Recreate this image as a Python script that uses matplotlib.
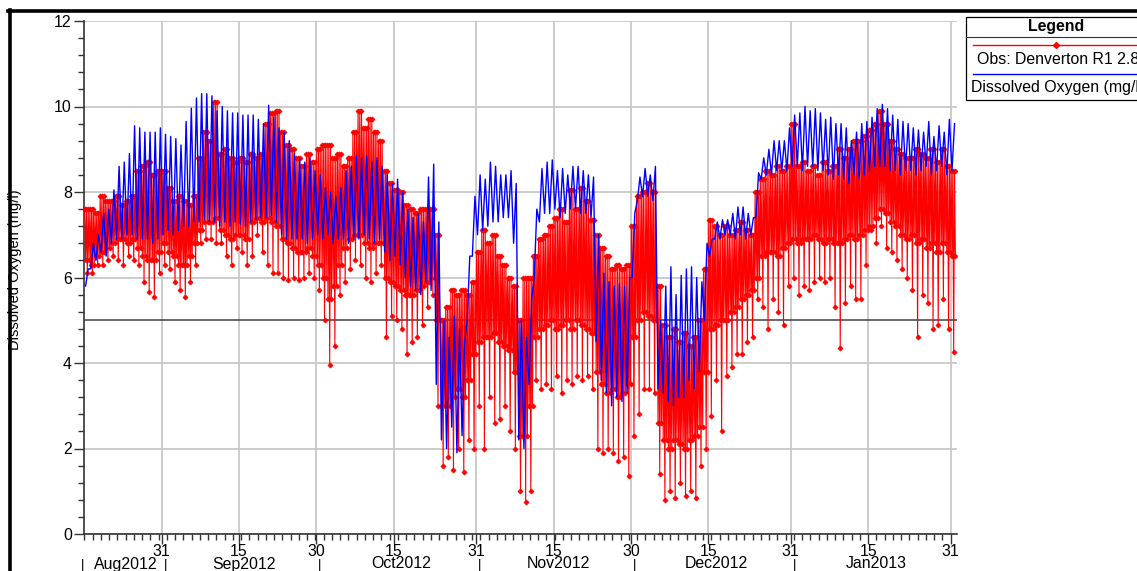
import matplotlib
matplotlib.use("Agg")
import matplotlib.pyplot as plt
import matplotlib.dates as mdates
import matplotlib.transforms as mtransforms
from matplotlib.lines import Line2D
from matplotlib.patches import Rectangle
from matplotlib.ticker import MultipleLocator, FixedLocator
import numpy as np

plt.rcParams['font.family'] = ['Liberation Sans', 'DejaVu Sans']

# ---------------- data (daily values, start 2012-08-16) ----------------
start_date = "2012-08-16"

blue_peak = [
    6.2, 6.8, 7.0, 7.5, 7.6, 8.05, 8.6, 8.7, 8.9, 9.55,
    9.5, 9.4, 9.4, 9.4, 9.5, 9.35, 9.3, 9.25, 9.1, 9.65,
    9.96, 10.2, 10.3, 10.3, 10.25, 9.9, 10.0, 9.9, 9.85, 9.85,
    9.8, 9.8, 9.8, 9.7, 9.6, 10.03, 9.75, 9.5, 9.4, 9.2,
    8.9, 8.8, 8.7, 8.8, 8.5, 8.4, 8.1, 8.0, 7.9, 8.1,
    8.5, 8.6, 8.85, 8.8, 8.85, 8.7, 8.8, 8.6, 8.4, 8.2,
    8.3, 8.0, 7.6, 7.4, 7.5, 7.3, 8.35, 8.65, 7.3, 5.0,
    4.6, 5.1, 4.8, 4.5, 6.5, 7.9, 8.4, 8.3, 8.7, 8.6,
    8.4, 8.4, 8.5, 8.2, 5.0, 4.6, 5.5, 7.6, 8.55, 8.7,
    8.75, 8.5, 8.55, 8.4, 8.6, 8.6, 8.5, 8.4, 8.35, 7.0,
    6.1, 5.9, 5.8, 5.85, 5.8, 6.0, 7.5, 8.35, 8.55, 8.4,
    8.6, 5.0, 5.8, 6.25, 5.6, 6.05, 6.2, 6.25, 6.0, 5.9,
    6.8, 6.9, 7.3, 7.35, 7.35, 7.5, 7.65, 7.65, 7.5, 7.4,
    8.45, 8.8, 9.0, 9.2, 9.2, 9.2, 9.5, 9.8, 9.85, 10.0,
    9.9, 9.95, 9.85, 9.7, 9.75, 9.6, 9.6, 9.5, 9.2, 9.4,
    9.6, 9.65, 9.75, 9.95, 10.05, 9.95, 9.8, 9.7, 9.65, 9.6,
    9.5, 9.45, 9.4, 9.65, 9.3, 9.55, 9.4, 9.7, 9.6,
]

blue_trough = [
    5.8, 6.2, 6.4, 6.6, 6.5, 6.8, 6.9, 6.9, 7.0, 7.0,
    6.9, 6.9, 6.9, 6.8, 6.9, 7.0, 7.1, 7.0, 7.1, 7.2,
    7.2, 7.3, 7.3, 7.35, 7.3, 7.3, 7.2, 7.3, 7.2, 7.3,
    7.25, 7.2, 7.3, 7.35, 7.4, 7.4, 7.45, 7.3, 7.0, 6.9,
    6.9, 6.9, 6.9, 6.8, 6.9, 7.0, 6.9, 7.0, 6.8, 6.9,
    6.9, 6.8, 6.9, 6.9, 7.0, 6.9, 6.8, 6.9, 6.6, 6.4,
    6.5, 6.3, 6.0, 5.8, 5.7, 5.6, 5.9, 5.7, 3.5, 2.2,
    2.0, 2.5, 1.9, 2.3, 5.0, 6.5, 7.0, 7.1, 7.2, 7.3,
    7.3, 7.4, 7.4, 6.8, 2.2, 2.0, 3.5, 6.0, 7.3, 7.5,
    7.5, 7.6, 7.4, 7.5, 7.6, 7.6, 7.5, 7.5, 7.4, 4.5,
    3.6, 3.3, 3.0, 3.2, 3.1, 3.3, 6.0, 7.8, 7.9, 7.9,
    7.8, 3.4, 3.3, 3.1, 3.0, 3.2, 3.2, 3.6, 3.4, 3.8,
    5.0, 6.5, 6.9, 6.9, 7.0, 7.0, 6.9, 7.0, 6.9, 7.0,
    7.4, 8.3, 8.4, 8.4, 8.5, 8.5, 8.5, 8.6, 8.6, 8.5,
    8.6, 8.6, 8.5, 8.5, 8.4, 8.3, 8.4, 8.3, 8.2, 8.4,
    8.3, 8.4, 8.5, 8.6, 8.6, 8.6, 8.5, 8.5, 8.4, 8.5,
    8.5, 8.4, 8.5, 8.6, 8.4, 8.5, 8.6, 8.4, 8.5,
]

red_high = [
    7.6, 7.6, 7.5, 7.9, 7.8, 7.8, 7.9, 7.7, 7.8, 7.9,
    8.5, 8.6, 8.7, 8.4, 8.5, 8.5, 8.1, 7.8, 7.9, 7.8,
    7.7, 7.9, 8.8, 9.4, 9.2, 10.1, 8.9, 9.0, 8.8, 8.7,
    8.8, 8.7, 8.9, 8.8, 8.9, 9.6, 9.85, 9.9, 9.4, 9.1,
    9.0, 8.8, 8.6, 8.9, 8.7, 9.0, 9.1, 9.1, 8.8, 8.9,
    8.6, 8.8, 9.4, 9.9, 9.5, 9.7, 9.4, 9.2, 8.5, 8.2,
    8.05, 8.0, 7.7, 7.6, 7.5, 7.6, 7.6, 7.6, 7.0, 5.0,
    5.3, 5.7, 5.6, 5.7, 5.6, 5.9, 6.6, 7.1, 6.8, 7.0,
    6.5, 6.3, 6.0, 5.8, 5.0, 6.0, 6.0, 6.5, 6.9, 7.0,
    7.2, 7.4, 7.6, 7.3, 8.05, 7.6, 8.1, 7.8, 7.35, 7.0,
    6.7, 6.5, 6.2, 6.3, 6.2, 6.3, 7.2, 7.9, 8.0, 8.2,
    8.0, 5.8, 4.9, 4.6, 4.8, 4.5, 4.7, 4.4, 4.6, 5.0,
    6.2, 7.35, 7.2, 7.0, 7.2, 7.0, 7.1, 7.3, 7.1, 7.0,
    8.0, 8.3, 8.5, 8.4, 8.6, 8.5, 8.6, 9.6, 8.6, 8.7,
    8.5, 8.6, 8.4, 8.7, 8.5, 8.6, 9.0, 8.8, 9.0, 9.2,
    9.2, 9.3, 9.45, 9.6, 9.9, 9.6, 9.2, 9.0, 8.9, 8.8,
    8.8, 9.0, 8.9, 8.8, 9.0, 8.7, 9.0, 8.6, 8.5,
]

red_low = [
    6.4, 6.3, 6.5, 6.6, 6.7, 6.8, 6.9, 6.9, 6.8, 6.9,
    6.7, 6.5, 6.4, 6.4, 6.6, 6.8, 6.6, 6.5, 6.3, 6.3,
    6.5, 6.8, 7.1, 7.3, 7.3, 7.4, 7.1, 7.0, 6.9, 7.0,
    7.0, 6.9, 7.3, 7.4, 7.3, 7.4, 7.3, 7.2, 6.9, 6.8,
    6.7, 6.6, 6.6, 6.7, 6.5, 6.3, 6.0, 5.5, 5.8, 6.3,
    6.7, 6.9, 7.0, 7.0, 6.8, 6.7, 6.8, 6.8, 6.0, 5.9,
    5.8, 5.7, 5.6, 5.6, 5.7, 5.8, 5.9, 6.0, 5.0, 3.0,
    3.0, 3.2, 3.4, 3.2, 3.6, 4.2, 4.5, 4.6, 4.6, 4.7,
    4.5, 4.4, 4.3, 3.8, 2.3, 2.3, 3.0, 4.6, 4.8, 4.9,
    5.0, 4.8, 4.9, 5.0, 4.8, 5.0, 4.9, 4.8, 4.7, 3.8,
    3.5, 3.3, 3.4, 3.2, 3.3, 3.5, 4.6, 5.0, 5.2, 5.1,
    5.0, 2.6, 2.2, 2.0, 2.2, 2.1, 2.0, 2.2, 2.3, 2.5,
    3.8, 4.8, 4.9, 5.0, 5.0, 5.2, 5.3, 5.5, 5.6, 5.7,
    6.0, 6.5, 6.6, 6.6, 6.5, 6.7, 6.8, 6.9, 6.8, 6.9,
    6.9, 7.0, 6.9, 6.8, 6.9, 6.8, 6.8, 6.9, 7.0, 6.9,
    7.0, 7.1, 7.2, 7.4, 7.6, 7.5, 7.3, 7.2, 7.0, 6.9,
    7.0, 6.8, 6.9, 6.7, 6.8, 6.6, 6.8, 6.6, 6.5,
]

red_min = [
    6.1, 6.1, 6.3, 6.3, 6.4, 6.5, 6.4, 6.3, 6.5, 6.4,
    6.3, 5.9, 5.65, 5.55, 6.1, 6.3, 6.2, 5.9, 5.7, 5.55,
    5.9, 6.3, 6.8, 6.9, 6.9, 6.8, 6.8, 6.5, 6.3, 6.7,
    6.6, 6.3, 6.5, 7.0, 6.6, 6.3, 6.1, 6.1, 6.0, 5.95,
    6.0, 5.95, 6.0, 6.1, 6.0, 5.7, 5.0, 3.95, 4.4, 5.6,
    5.9, 6.2, 6.4, 6.3, 6.0, 5.9, 6.1, 6.3, 4.6, 5.1,
    5.0, 4.8, 4.2, 4.5, 4.6, 4.9, 5.3, 5.6, 3.0, 1.6,
    1.8, 1.5, 2.0, 1.45, 2.2, 2.0, 3.0, 2.0, 3.2, 2.6,
    2.7, 3.0, 2.4, 2.0, 1.0, 0.75, 1.0, 3.6, 3.4, 3.5,
    3.4, 3.7, 3.3, 3.6, 3.5, 3.7, 3.6, 3.7, 3.4, 2.0,
    1.9, 2.0, 1.9, 1.7, 1.8, 1.35, 2.3, 2.8, 3.4, 3.4,
    3.3, 1.4, 0.8, 1.0, 0.85, 1.2, 0.9, 1.0, 0.85, 1.6,
    2.0, 2.75, 3.6, 2.4, 3.7, 3.9, 4.2, 4.2, 4.5, 4.6,
    5.5, 5.3, 4.8, 5.5, 5.2, 4.9, 5.8, 6.0, 5.6, 5.8,
    5.7, 5.9, 6.0, 5.9, 6.0, 5.3, 4.35, 5.4, 5.8, 5.5,
    5.5, 6.3, 7.1, 6.8, 7.2, 6.7, 6.6, 6.4, 6.2, 6.0,
    5.7, 4.6, 5.6, 5.4, 4.8, 4.9, 5.5, 4.8, 4.25,
]

threshold = 5.0

day_tick_dates = ["2012-08-31", "2012-09-15", "2012-09-30", "2012-10-15", "2012-10-31",
                  "2012-11-15", "2012-11-30", "2012-12-15", "2012-12-31", "2013-01-15",
                  "2013-01-31"]
day_tick_labels = ["31", "15", "30", "15", "31", "15", "30", "15", "31", "15", "31"]
month_bounds = ["2012-08-16", "2012-09-01", "2012-10-01", "2012-11-01", "2012-12-01",
                "2013-01-01", "2013-02-01"]
month_labels = ["Aug2012", "Sep2012", "Oct2012", "Nov2012", "Dec2012", "Jan2013"]

legend_title = "Legend"
series_red_name = "Obs: Denverton R1 2.8 ft"
series_blue_name = "Dissolved Oxygen (mg/l)"
y_label = "Dissolved Oxygen (mg/l)"

# ---------------- build series ----------------
t0 = mdates.datestr2num(start_date)
n = len(blue_peak)
tb, yb = [], []
for d in range(n):
    tb += [t0 + d + 0.25, t0 + d + 0.75]
    yb += [blue_trough[d], blue_peak[d]]
tr, yr = [], []
for d in range(n):
    seq = [red_high[d], red_low[d], red_high[d], red_min[d], red_high[d], red_low[d]]
    for k, v in enumerate(seq):
        tr.append(t0 + d + (k + 0.5) / len(seq))
        yr.append(v)

# ---------------- figure ----------------
W, H = 1137, 571
FS = 11.4
fig = plt.figure(figsize=(W / 100, H / 100), dpi=100)
fig.patch.set_facecolor("white")


def fx(x):
    return x / W


def fy(y):
    return 1 - y / H


ax_l, ax_r, ax_t, ax_b = 84.3, 956.7, 21, 534
ax = fig.add_axes([fx(ax_l), fy(ax_b), fx(ax_r - ax_l), (ax_b - ax_t) / H])

ax.axhline(threshold, color="#404040", lw=1.1, zorder=2)
ax.plot(tr, yr, color="#ff0000", lw=0.8, marker="D", ms=2.6, mew=0.5, zorder=3)
ax.plot(tb, yb, color="#0000ff", lw=1.0, zorder=4)

ax.set_ylim(0, 12)
x_lo = t0
x_hi = t0 + (ax_r - ax_l) / 5.157
ax.set_xlim(x_lo, x_hi)

ax.set_yticks([0, 2, 4, 6, 8, 10, 12])
ax.set_yticklabels(["0", "2", "4", "6", "8", "10", "12"])
ax.yaxis.set_minor_locator(MultipleLocator(0.4))

day_ticks = [mdates.datestr2num(s) for s in day_tick_dates]
ax.set_xticks(day_ticks)
ax.set_xticklabels(day_tick_labels)
ax.xaxis.set_minor_locator(FixedLocator(np.arange(x_lo, x_hi, 1.6)))

ax.tick_params(axis="both", which="major", length=7, width=1.0, color="#333333",
               labelsize=FS, labelcolor="black", direction="out")
ax.tick_params(axis="both", which="minor", length=4, width=1.0, color="#333333",
               direction="out")
ax.tick_params(axis="x", which="major", pad=0.0)
ax.tick_params(axis="y", which="major", pad=2)

ax.grid(True, which="major", color="#c8c8c8", lw=1.3, zorder=0)
ax.set_axisbelow(True)
for s in ["top", "right"]:
    ax.spines[s].set_visible(False)
for s in ["left", "bottom"]:
    ax.spines[s].set_color("#333333")
    ax.spines[s].set_linewidth(1.2)

# month row
trans = mtransforms.blended_transform_factory(ax.transData, fig.transFigure)
mb = [mdates.datestr2num(s) for s in month_bounds]
for i, lab in enumerate(month_labels):
    a = max(mb[i], x_lo)
    b = min(mb[i + 1], x_hi)
    ax.text((a + b) / 2, fy(564), lab, transform=trans, ha="center", va="center",
            fontsize=FS, clip_on=False)
for m in mb[:-1]:
    xm = max(m, x_lo) - 0.3
    ax.text(xm, fy(571), "|", transform=trans, ha="center", va="bottom",
            fontsize=9.5, clip_on=False)

# y label
fig.text(fx(15), fy(270), y_label, rotation=90, ha="center", va="center", fontsize=10.5)

# outer frame (thick black)
fig.add_artist(Line2D([fx(9.5), fx(9.5)], [fy(10), fy(575)], color="black", lw=2.6,
                      transform=fig.transFigure))
fig.add_artist(Line2D([fx(8), fx(1140)], [fy(11), fy(11)], color="black", lw=2.6,
                      transform=fig.transFigure))

# legend box
lx0, ly0, lx1, ly1 = 966, 17, 1150, 100
fig.add_artist(Rectangle((fx(lx0), fy(ly1)), fx(lx1 - lx0), (ly1 - ly0) / H,
                         transform=fig.transFigure, facecolor="white", edgecolor="black",
                         lw=0.9, clip_on=False))
fig.add_artist(Line2D([fx(lx0), fx(lx1)], [fy(37), fy(37)], color="#333333", lw=0.8,
                      transform=fig.transFigure))
fig.text(fx(1056), fy(27), legend_title, ha="center", va="center", fontsize=FS,
         fontweight="bold")
fig.add_artist(Line2D([fx(973), fx(1140)], [fy(45), fy(45)], color="#ff0000", lw=1.0,
                      transform=fig.transFigure))
fig.add_artist(Line2D([fx(1056)], [fy(45)], color="#ff0000", marker="D", ms=3,
                      transform=fig.transFigure))
fig.add_artist(Line2D([fx(973), fx(1140)], [fy(74), fy(74)], color="#0000ff", lw=1.0,
                      transform=fig.transFigure))
t1 = fig.text(fx(977), fy(59.5), series_red_name, ha="left", va="center", fontsize=FS)
t2 = fig.text(fx(971), fy(88), series_blue_name, ha="left", va="center", fontsize=FS)
for t in (t1, t2):
    t.set_clip_box(fig.bbox)
    t.set_clip_on(True)

fig.savefig("out.png", dpi=100, facecolor="white")
